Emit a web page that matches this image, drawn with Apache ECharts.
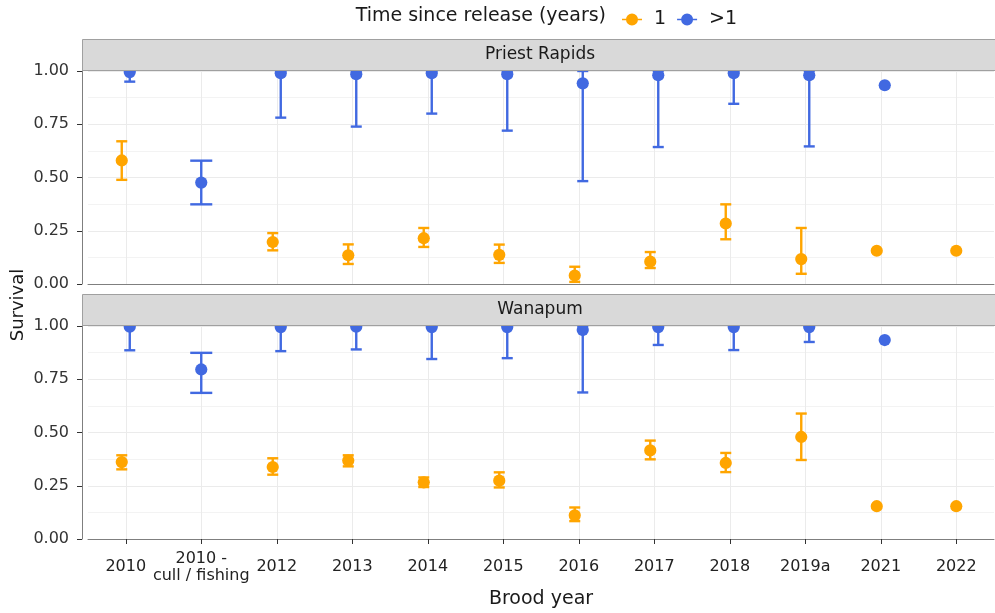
<!DOCTYPE html>
<html>
<head>
<meta charset="utf-8">
<title>Survival by brood year</title>
<script src="https://cdn.jsdelivr.net/npm/echarts@6/dist/echarts.min.js"></script>
<style>
  html, body { margin: 0; padding: 0; background: #fff; }
  #chart { width: 995px; height: 613px; }
</style>
</head>
<body>
<div id="chart"></div>
<script>
  // x axis categories
  const broodYears = ['2010', '2010 -\ncull / fishing', '2012', '2013', '2014', '2015',
    '2016', '2017', '2018', '2019a', '2021', '2022'];
  const yTicks = [0, 0.25, 0.5, 0.75, 1];

  // Priest Rapids, 1 year since release
  const priestOneEst = [0.58, null, 0.197, 0.135, 0.215, 0.137, 0.04, 0.105, 0.284, 0.117, 0.156, 0.156];
  const priestOneLow = [0.489, null, 0.158, 0.094, 0.174, 0.099, 0.01, 0.075, 0.21, 0.048, null, null];
  const priestOneHigh = [0.67, null, 0.239, 0.186, 0.263, 0.185, 0.081, 0.15, 0.374, 0.263, null, null];
  // Priest Rapids, >1 year since release
  const priestAdultEst = [0.995, 0.476, 0.99, 0.985, 0.99, 0.985, 0.942, 0.98, 0.99, 0.98, 0.933, null];
  const priestAdultLow = [0.95, 0.374, 0.781, 0.739, 0.8, 0.72, 0.483, 0.643, 0.846, 0.646, null, null];
  const priestAdultHigh = [1, 0.579, 1, 1, 1, 1, 1, 1, 1, 1, null, null];

  // Wanapum, 1 year since release
  const wanapumOneEst = [0.361, null, 0.338, 0.368, 0.266, 0.274, 0.111, 0.416, 0.357, 0.479, 0.154, 0.154];
  const wanapumOneLow = [0.327, null, 0.302, 0.341, 0.244, 0.242, 0.084, 0.374, 0.314, 0.371, null, null];
  const wanapumOneHigh = [0.393, null, 0.379, 0.393, 0.289, 0.313, 0.148, 0.462, 0.404, 0.589, null, null];
  // Wanapum, >1 year since release
  const wanapumAdultEst = [0.997, 0.796, 0.995, 0.997, 0.995, 0.995, 0.981, 0.995, 0.995, 0.995, 0.934, null];
  const wanapumAdultLow = [0.886, 0.686, 0.882, 0.89, 0.845, 0.849, 0.688, 0.911, 0.887, 0.925, null, null];
  const wanapumAdultHigh = [1, 0.874, 1, 1, 1, 1, 1, 1, 1, 1, null, null];

  const ORANGE = '#FFA500';
  const BLUE = '#4169E1';
  const FONT = 'DejaVu Sans';

  // [category index, estimate, low, high, dodge side]
  function pointData(est, low, high, other, side) {
    const out = [];
    est.forEach((v, i) => {
      if (v == null) return;
      out.push([i, v, low[i], high[i], other[i] == null ? 0 : side]);
    });
    return out;
  }

  function errorPoints(color) {
    return function (params, api) {
      const idx = api.value(0);
      const est = api.value(1);
      const lo = api.value(2);
      const hi = api.value(3);
      const dodge = api.value(4);
      const band = api.size([1, 0])[0];
      const x = api.coord([idx, est])[0] + dodge * band * 0.053;
      const half = band * (dodge === 0 ? 0.146 : 0.073);
      const lineStyle = { stroke: color, lineWidth: 2.4 };
      const children = [];
      if (isFinite(lo) && isFinite(hi)) {
        const yLo = api.coord([idx, lo])[1];
        const yHi = api.coord([idx, hi])[1];
        children.push(
          { type: 'line', shape: { x1: x, y1: yLo, x2: x, y2: yHi }, style: lineStyle },
          { type: 'line', shape: { x1: x - half, y1: yLo, x2: x + half, y2: yLo }, style: lineStyle },
          { type: 'line', shape: { x1: x - half, y1: yHi, x2: x + half, y2: yHi }, style: lineStyle }
        );
      }
      const yEst = api.coord([idx, est])[1];
      children.push({ type: 'circle', shape: { cx: x, cy: yEst, r: 6.1 }, style: { fill: color } });
      return { type: 'group', children: children };
    };
  }

  function xAxisFor(gridIndex, showLabels) {
    return {
      type: 'category',
      gridIndex: gridIndex,
      data: broodYears,
      axisLine: { show: true, lineStyle: { color: '#7f7f7f', width: 1 } },
      axisTick: { show: showLabels, alignWithLabel: true, length: 5, lineStyle: { color: '#333' } },
      axisLabel: {
        show: showLabels,
        interval: 0,
        margin: 28,
        verticalAlign: 'middle',
        lineHeight: 17,
        fontSize: 16,
        fontFamily: FONT,
        color: '#222'
      },
      splitLine: { show: true, alignWithLabel: true, lineStyle: { color: '#ebebeb', width: 1 } }
    };
  }

  function yAxisFor(gridIndex) {
    return {
      type: 'value',
      gridIndex: gridIndex,
      min: 0,
      max: 1,
      interval: 0.25,
      offset: 6,
      axisLine: { show: true, lineStyle: { color: '#7f7f7f', width: 1 } },
      axisTick: { show: true, length: 5, lineStyle: { color: '#333' } },
      axisLabel: {
        margin: 13,
        fontSize: 16,
        fontFamily: FONT,
        color: '#333',
        formatter: v => yTicks.indexOf(v) >= 0 ? v.toFixed(2) : ''
      },
      splitLine: { show: true, lineStyle: { color: '#ebebeb', width: 1 } },
      minorTick: { show: false, splitNumber: 2 },
      minorSplitLine: { show: true, lineStyle: { color: '#f3f3f3', width: 1 } }
    };
  }

  function stripText(label, y) {
    return {
      type: 'text', x: 540, y: y,
      style: { text: label, fontSize: 17, fontFamily: FONT, fill: '#1a1a1a', align: 'center', verticalAlign: 'middle' }
    };
  }

  const legendIcon = 'path://M0,5.2h20v1.6h-20z M10,0a6,6 0 1 1 0,12a6,6 0 1 1 0,-12z';

  const chart = echarts.init(document.getElementById('chart'));
  chart.setOption({
    animation: false,
    grid: [
      { left: 88, right: 1, top: 71, height: 213 },
      { left: 88, right: 1, top: 326, height: 213 }
    ],
    xAxis: [xAxisFor(0, false), xAxisFor(1, true)],
    yAxis: [yAxisFor(0), yAxisFor(1)],
    legend: {
      left: 617,
      top: 5,
      itemWidth: 20,
      itemHeight: 12,
      itemGap: 11,
      icon: legendIcon,
      data: ['1', '>1'],
      textStyle: { fontSize: 19, fontFamily: FONT, color: '#1a1a1a', padding: [0, 0, 0, 7] }
    },
    graphic: [
      { type: 'rect', shape: { x: 82.5, y: 39.5, width: 913, height: 31 }, style: { fill: '#d9d9d9', stroke: '#a0a0a0', lineWidth: 1 } },
      { type: 'rect', shape: { x: 82.5, y: 294.5, width: 913, height: 31 }, style: { fill: '#d9d9d9', stroke: '#a0a0a0', lineWidth: 1 } },
      stripText('Priest Rapids', 55),
      stripText('Wanapum', 310),
      {
        type: 'text', x: 606, y: 16,
        style: { text: 'Time since release (years)', fontSize: 19, fontFamily: FONT, fill: '#1a1a1a', align: 'right', verticalAlign: 'middle' }
      },
      {
        type: 'text', x: 18, y: 305, rotation: Math.PI / 2,
        style: { text: 'Survival', fontSize: 18, fontFamily: FONT, fill: '#1a1a1a', align: 'center', verticalAlign: 'middle' }
      },
      {
        type: 'text', x: 541, y: 599,
        style: { text: 'Brood year', fontSize: 19, fontFamily: FONT, fill: '#1a1a1a', align: 'center', verticalAlign: 'middle' }
      }
    ],
    series: [
      {
        name: '1', type: 'custom', xAxisIndex: 0, yAxisIndex: 0, clip: true,
        itemStyle: { color: ORANGE }, encode: { x: 0, y: 1 },
        renderItem: errorPoints(ORANGE),
        data: pointData(priestOneEst, priestOneLow, priestOneHigh, priestAdultEst, -1)
      },
      {
        name: '>1', type: 'custom', xAxisIndex: 0, yAxisIndex: 0, clip: true,
        itemStyle: { color: BLUE }, encode: { x: 0, y: 1 },
        renderItem: errorPoints(BLUE),
        data: pointData(priestAdultEst, priestAdultLow, priestAdultHigh, priestOneEst, 1)
      },
      {
        name: '1', type: 'custom', xAxisIndex: 1, yAxisIndex: 1, clip: true,
        itemStyle: { color: ORANGE }, encode: { x: 0, y: 1 },
        renderItem: errorPoints(ORANGE),
        data: pointData(wanapumOneEst, wanapumOneLow, wanapumOneHigh, wanapumAdultEst, -1)
      },
      {
        name: '>1', type: 'custom', xAxisIndex: 1, yAxisIndex: 1, clip: true,
        itemStyle: { color: BLUE }, encode: { x: 0, y: 1 },
        renderItem: errorPoints(BLUE),
        data: pointData(wanapumAdultEst, wanapumAdultLow, wanapumAdultHigh, wanapumOneEst, 1)
      }
    ]
  });
</script>
</body>
</html>
